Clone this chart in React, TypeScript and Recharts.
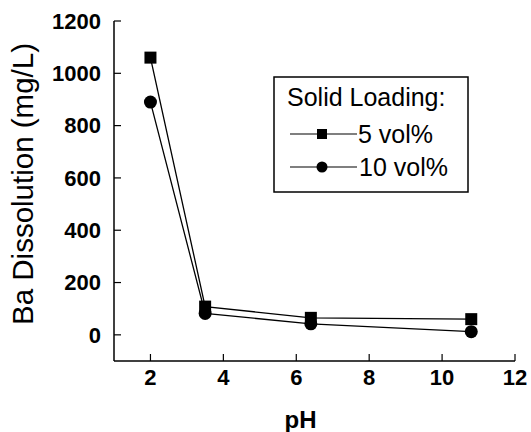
import * as React from "react";
import { LineChart, Line, XAxis, YAxis } from "recharts";

const PH = [2, 3.5, 6.4, 10.8];
const LOAD_5 = [1060, 108, 65, 60];
const LOAD_10 = [890, 82, 42, 12];

const X_MAJOR = [2, 4, 6, 8, 10, 12];
const X_MINOR = [3, 5, 7, 9, 11];
const Y_MAJOR = [0, 200, 400, 600, 800, 1000, 1200];
const Y_MINOR = [100, 300, 500, 700, 900, 1100];

const LEGEND_TITLE = "Solid Loading:";
const SERIES_NAMES = ["5 vol%", "10 vol%"];

const data = PH.map((ph, i) => ({ ph, s5: LOAD_5[i], s10: LOAD_10[i] }));

const FONT = '"Liberation Sans", Arial, sans-serif';

const SquareDot = (props: any) => {
  const { cx, cy, index } = props;
  if (cx == null || cy == null) return <g key={index} />;
  return <rect key={index} x={cx - 6} y={cy - 6} width={12} height={12} fill="#000" />;
};

const CircleDot = (props: any) => {
  const { cx, cy, index } = props;
  if (cx == null || cy == null) return <g key={index} />;
  return <circle key={index} cx={cx} cy={cy} r={6.5} fill="#000" />;
};

// boxed legend sitting inside the plot frame
function LegendBox() {
  const txt = { fontFamily: FONT, fontSize: 25, fill: "#000" };
  return (
    <svg
      width={196}
      height={117}
      style={{ position: "absolute", left: 273, top: 76 }}
    >
      <rect x={1} y={1} width={194} height={115} fill="#fff" stroke="#000" strokeWidth={1.5} />
      <text x={14} y={30} style={txt}>{LEGEND_TITLE}</text>
      <line x1={17} y1={58} x2={84} y2={58} stroke="#000" strokeWidth={1.2} />
      <rect x={44} y={53} width={10} height={10} fill="#000" />
      <text x={85} y={67} style={txt}>{SERIES_NAMES[0]}</text>
      <line x1={17} y1={91} x2={84} y2={91} stroke="#000" strokeWidth={1.2} />
      <circle cx={49} cy={91} r={5.5} fill="#000" />
      <text x={86} y={100} style={txt}>{SERIES_NAMES[1]}</text>
    </svg>
  );
}

const tickStyle = { fontFamily: FONT, fontSize: 22, fontWeight: 700, fill: "#000" };
const tickLine = { stroke: "#000", strokeWidth: 1.2 };
const frame = { stroke: "#000", strokeWidth: 1.5 };
const noLabel = () => <g />;

const PhLabel = (props: any) => {
  const vb = props.viewBox;
  return (
    <text
      x={vb.x + vb.width / 2 - 14}
      y={vb.y + vb.height - 4}
      textAnchor="middle"
      style={{ fontFamily: FONT, fontSize: 24, fontWeight: 700, fill: "#000" }}
    >
      pH
    </text>
  );
};

const YTitle = (props: any) => {
  const vb = props.viewBox;
  const x = vb.x + 22.5;
  const y = vb.y + vb.height / 2 - 7;
  return (
    <text
      x={x}
      y={y}
      dy="0.36em"
      transform={`rotate(-90 ${x} ${y})`}
      textAnchor="middle"
      style={{ fontFamily: FONT, fontSize: 29.5, fill: "#000" }}
    >
      Ba Dissolution (mg/L)
    </text>
  );
};

export default function App() {
  return (
    <div style={{ position: "absolute", left: 0, top: 0, width: 531, height: 432, background: "#fff" }}>
      <LineChart
        width={531}
        height={432}
        data={data}
        margin={{ top: 21, right: 16, bottom: 0, left: 0 }}
      >
        {/* minor ticks first so they sit on the frame */}
        <XAxis
          xAxisId="minor"
          type="number"
          dataKey="ph"
          domain={[1, 12]}
          ticks={X_MINOR}
          height={0}
          tickSize={-4}
          tick={noLabel}
          axisLine={false}
          tickLine={tickLine}
        />
        <XAxis
          xAxisId={0}
          type="number"
          dataKey="ph"
          domain={[1, 12]}
          ticks={X_MAJOR}
          height={71}
          tickSize={-7}
          tickMargin={15}
          tick={tickStyle}
          axisLine={frame}
          tickLine={tickLine}
          label={<PhLabel />}
        />
        <XAxis
          xAxisId="top"
          orientation="top"
          type="number"
          dataKey="ph"
          domain={[1, 12]}
          ticks={X_MAJOR}
          height={0}
          tickSize={-7}
          tick={noLabel}
          axisLine={frame}
          tickLine={tickLine}
        />
        <XAxis
          xAxisId="topMinor"
          orientation="top"
          type="number"
          dataKey="ph"
          domain={[1, 12]}
          ticks={X_MINOR}
          height={0}
          tickSize={-4}
          tick={noLabel}
          axisLine={false}
          tickLine={tickLine}
        />
        <YAxis
          yAxisId="minor"
          type="number"
          domain={[-100, 1200]}
          ticks={Y_MINOR}
          width={0}
          tickSize={-4}
          tick={noLabel}
          axisLine={false}
          tickLine={tickLine}
        />
        <YAxis
          yAxisId={0}
          type="number"
          domain={[-100, 1200]}
          ticks={Y_MAJOR}
          width={114}
          tickSize={-7}
          tickMargin={20}
          tick={tickStyle}
          axisLine={frame}
          tickLine={tickLine}
          label={<YTitle />}
        />
        <YAxis
          yAxisId="right"
          orientation="right"
          type="number"
          domain={[-100, 1200]}
          ticks={Y_MAJOR}
          width={0}
          tickSize={-7}
          tick={noLabel}
          axisLine={frame}
          tickLine={tickLine}
        />
        <YAxis
          yAxisId="rightMinor"
          orientation="right"
          type="number"
          domain={[-100, 1200]}
          ticks={Y_MINOR}
          width={0}
          tickSize={-4}
          tick={noLabel}
          axisLine={false}
          tickLine={tickLine}
        />
        <Line
          dataKey="s5"
          name={SERIES_NAMES[0]}
          stroke="#000"
          strokeWidth={1.3}
          dot={SquareDot}
          isAnimationActive={false}
        />
        <Line
          dataKey="s10"
          name={SERIES_NAMES[1]}
          stroke="#000"
          strokeWidth={1.3}
          dot={CircleDot}
          isAnimationActive={false}
        />
      </LineChart>
      <LegendBox />
    </div>
  );
}
